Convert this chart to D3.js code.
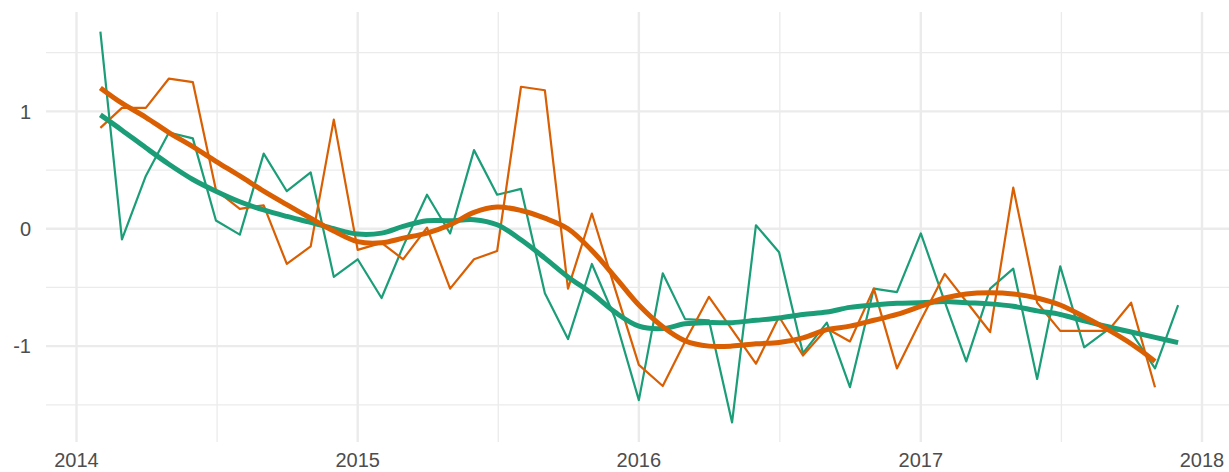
<!DOCTYPE html>
<html>
<head>
<meta charset="utf-8">
<script src="https://cdn.jsdelivr.net/npm/d3@7"></script>
<style>
  body { margin: 0; background: #fff; }
  svg { display: block; font-family: "Liberation Sans", Arial, sans-serif; }
</style>
</head>
<body>
<div id="chart"></div>
<script>
const width = 1229;
const height = 472;
const panel = { left: 46, right: 1229, top: 12, bottom: 442 };

// monthly values, Feb 2014 onwards
const startMonth = "2014-02-01";
const greenValues = [
  1.68, -0.09, 0.45, 0.82, 0.77, 0.07, -0.05, 0.64, 0.32, 0.48, -0.41,
  -0.26, -0.59, -0.15, 0.29, -0.04, 0.67, 0.29, 0.34, -0.55, -0.94, -0.30, -0.76,
  -1.46, -0.38, -0.77, -0.78, -1.65, 0.03, -0.20, -1.06, -0.80, -1.35, -0.51, -0.54,
  -0.04, -0.62, -1.13, -0.51, -0.34, -1.28, -0.32, -1.01, -0.86, -0.88, -1.19, -0.65
];
const orangeValues = [
  0.86, 1.03, 1.03, 1.28, 1.25, 0.33, 0.17, 0.20, -0.30, -0.15, 0.93,
  -0.18, -0.12, -0.26, 0.01, -0.51, -0.26, -0.19, 1.21, 1.18, -0.51, 0.13, -0.51,
  -1.16, -1.34, -0.96, -0.58, -0.86, -1.15, -0.75, -1.08, -0.85, -0.96, -0.51, -1.19,
  -0.78, -0.385, -0.62, -0.88, 0.35, -0.63, -0.87, -0.87, -0.87, -0.63, -1.35
];
const greenSmooth = [
  0.97, 0.84, 0.69, 0.55, 0.42, 0.32, 0.23, 0.16, 0.105, 0.054, 0.0,
  -0.045, -0.037, 0.02, 0.068, 0.068, 0.077, 0.034, -0.094, -0.25, -0.41, -0.55, -0.71,
  -0.83, -0.85, -0.81, -0.80, -0.80, -0.78, -0.76, -0.73, -0.71, -0.67, -0.65, -0.635,
  -0.63, -0.62, -0.63, -0.64, -0.66, -0.70, -0.73, -0.785, -0.835, -0.88, -0.925, -0.97
];
const orangeSmooth = [
  1.20, 1.07, 0.95, 0.82, 0.70, 0.575, 0.45, 0.32, 0.205, 0.09, -0.02,
  -0.11, -0.12, -0.08, -0.037, 0.034, 0.14, 0.185, 0.156, 0.09, 0.0, -0.185, -0.41,
  -0.65, -0.835, -0.955, -1.0, -1.0, -0.98, -0.97, -0.93, -0.86, -0.83, -0.78, -0.73,
  -0.66, -0.59, -0.555, -0.545, -0.555, -0.59, -0.65, -0.75, -0.86, -0.98, -1.13
];
const xTicks = ["2014", "2015", "2016", "2017", "2018"];
const yTicks = [-1, 0, 1];
const yMinor = [-1.5, -0.5, 0.5, 1.5];

const green = "#1b9e77";
const orange = "#d95f02";

const parse = d3.timeParse("%Y-%m-%d");
const month = (i) => d3.timeMonth.offset(parse(startMonth), i);

const x = d3.scaleTime()
  .domain([parse("2014-01-01"), parse("2018-01-01")])
  .range([76.5, 1202]);
const y = d3.scaleLinear()
  .domain([-1.817, 1.847])
  .range([panel.bottom, panel.top]);

const svg = d3.select("#chart").append("svg")
  .attr("width", width)
  .attr("height", height);

const grid = svg.append("g");
const xMinor = xTicks.slice(0, -1).map((t, i) =>
  new Date((parse(t + "-01-01").getTime() + parse(xTicks[i + 1] + "-01-01").getTime()) / 2));

grid.selectAll(".hminor").data(yMinor).join("line")
  .attr("x1", panel.left).attr("x2", panel.right)
  .attr("y1", (d) => y(d)).attr("y2", (d) => y(d))
  .attr("stroke", "#ebebeb").attr("stroke-width", 1.3);
grid.selectAll(".vminor").data(xMinor).join("line")
  .attr("y1", panel.top).attr("y2", panel.bottom)
  .attr("x1", (d) => x(d)).attr("x2", (d) => x(d))
  .attr("stroke", "#ebebeb").attr("stroke-width", 1.3);
grid.selectAll(".hmajor").data(yTicks).join("line")
  .attr("x1", panel.left).attr("x2", panel.right)
  .attr("y1", (d) => y(d)).attr("y2", (d) => y(d))
  .attr("stroke", "#ebebeb").attr("stroke-width", 2.4);
grid.selectAll(".vmajor").data(xTicks).join("line")
  .attr("y1", panel.top).attr("y2", panel.bottom)
  .attr("x1", (d) => x(parse(d + "-01-01"))).attr("x2", (d) => x(parse(d + "-01-01")))
  .attr("stroke", "#ebebeb").attr("stroke-width", 2.4);

const raw = d3.line()
  .x((d, i) => x(month(i)))
  .y((d) => y(d));
const smooth = d3.line()
  .x((d, i) => x(month(i)))
  .y((d) => y(d))
  .curve(d3.curveCatmullRom);

const series = [
  { values: greenValues, smooth: greenSmooth, color: green },
  { values: orangeValues, smooth: orangeSmooth, color: orange },
];

series.forEach((s) => {
  svg.append("path")
    .attr("d", raw(s.values))
    .attr("fill", "none")
    .attr("stroke", s.color)
    .attr("stroke-width", 2.2)
    .attr("stroke-linejoin", "round");
});
series.forEach((s) => {
  svg.append("path")
    .attr("d", smooth(s.smooth))
    .attr("fill", "none")
    .attr("stroke", s.color)
    .attr("stroke-width", 5)
    .attr("stroke-linejoin", "round");
});

svg.append("g").selectAll("text").data(yTicks).join("text")
  .attr("x", 31)
  .attr("y", (d) => y(d))
  .attr("dy", "0.36em")
  .attr("text-anchor", "end")
  .attr("font-size", 20)
  .attr("fill", "#4d4d4d")
  .text((d) => d);

svg.append("g").selectAll("text").data(xTicks).join("text")
  .attr("x", (d) => x(parse(d + "-01-01")))
  .attr("y", 467)
  .attr("text-anchor", "middle")
  .attr("font-size", 20)
  .attr("fill", "#4d4d4d")
  .text((d) => d);
</script>
</body>
</html>
